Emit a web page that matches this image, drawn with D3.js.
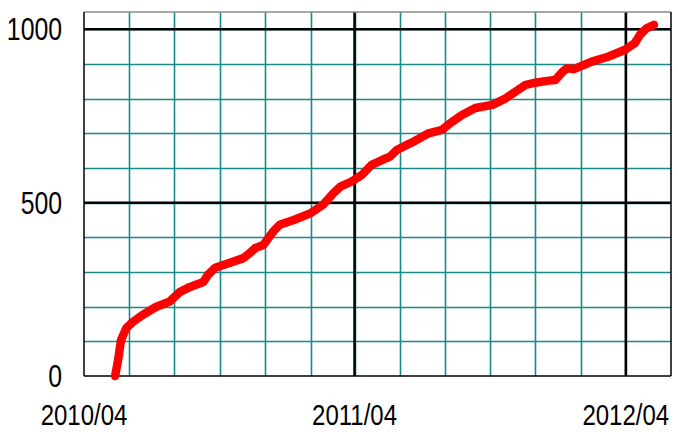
<!DOCTYPE html>
<html>
<head>
<meta charset="utf-8">
<script src="https://cdn.jsdelivr.net/npm/d3@7"></script>
<style>
  body { margin: 0; background: #fff; }
  text { font-family: "Liberation Sans", Arial, sans-serif; }
</style>
</head>
<body>
<svg id="chart" width="678" height="432"></svg>
<script>
// Data: cumulative count by date
var dates = [
  "2010-05-13", "2010-05-17", "2010-05-21", "2010-05-28", "2010-06-06", "2010-06-19",
  "2010-07-07", "2010-07-25", "2010-08-08", "2010-08-22", "2010-09-09", "2010-09-15",
  "2010-09-25", "2010-10-10", "2010-11-02", "2010-11-11", "2010-11-18", "2010-11-29",
  "2010-12-12", "2010-12-21", "2011-01-09", "2011-02-01", "2011-02-17", "2011-03-04",
  "2011-03-13", "2011-03-28", "2011-04-11", "2011-04-24", "2011-05-08", "2011-05-19",
  "2011-05-28", "2011-06-12", "2011-06-17", "2011-07-10", "2011-07-28", "2011-08-08",
  "2011-08-24", "2011-09-11", "2011-10-04", "2011-10-22", "2011-11-04", "2011-11-18",
  "2011-12-01", "2011-12-19", "2011-12-28", "2012-01-07", "2012-01-13", "2012-01-22",
  "2012-02-15", "2012-03-08", "2012-03-31", "2012-04-13", "2012-04-20", "2012-04-29",
  "2012-05-09"
];
var counts = [
  0, 46, 104, 138, 156, 176,
  199, 214, 242, 257, 271, 291,
  312, 323, 340, 355, 369, 378,
  416, 436, 450, 470, 493, 528,
  546, 561, 580, 609, 623, 633,
  652, 668, 673, 700, 710, 729,
  753, 773, 782, 801, 820, 840,
  846, 852, 854, 878, 888, 885,
  907, 921, 941, 960, 984, 1003,
  1013
];

// Axis settings
var xTickLabels = ["2010/04", "2011/04", "2012/04"];
var yTickLabels = [0, 500, 1000];
var yMinorStep = 100;
var xDomain = ["2010-04-01", "2012-06-01"];
var yDomain = [0, 1050];

var parse = d3.timeParse("%Y-%m-%d");
var parseLabel = d3.timeParse("%Y/%m");

var data = dates.map(function(d, i) { return { date: parse(d), value: counts[i] }; });

var m = { left: 84, top: 12, right: 7, bottom: 56 };
var W = 678, H = 432;
var squeeze = 0.8;  // narrow glyphs like the original font

var svg = d3.select("#chart");

var x = d3.scaleTime()
  .domain(xDomain.map(parse))
  .range([m.left, W - m.right]);

var y = d3.scaleLinear()
  .domain(yDomain)
  .range([H - m.bottom, m.top]);

// Minor grid
var grid = svg.append("g").attr("class", "grid");

var minorX = d3.timeMonth.range(x.domain()[0], x.domain()[1], 2).slice(1);
grid.selectAll("line.vx")
  .data(minorX)
  .enter().append("line")
    .attr("class", "vx")
    .attr("x1", function(d) { return Math.round(x(d)) + 0.5; })
    .attr("x2", function(d) { return Math.round(x(d)) + 0.5; })
    .attr("y1", y.range()[1])
    .attr("y2", y.range()[0])
    .style("stroke", "#168a8a")
    .style("stroke-width", 1.6);

var minorY = d3.range(yMinorStep, yDomain[1], yMinorStep);
grid.selectAll("line.hy")
  .data(minorY)
  .enter().append("line")
    .attr("class", "hy")
    .attr("x1", x.range()[0])
    .attr("x2", x.range()[1])
    .attr("y1", function(d) { return Math.round(y(d)) + 0.5; })
    .attr("y2", function(d) { return Math.round(y(d)) + 0.5; })
    .style("stroke", "#168a8a")
    .style("stroke-width", 1.6);

// Major grid
var majorX = xTickLabels.map(parseLabel).slice(1);
grid.selectAll("line.mx")
  .data(majorX)
  .enter().append("line")
    .attr("class", "mx")
    .attr("x1", function(d) { return x(d); })
    .attr("x2", function(d) { return x(d); })
    .attr("y1", y.range()[1])
    .attr("y2", y.range()[0])
    .style("stroke", "#000")
    .style("stroke-width", 2.5);

grid.selectAll("line.my")
  .data(yTickLabels.slice(1))
  .enter().append("line")
    .attr("class", "my")
    .attr("x1", x.range()[0])
    .attr("x2", x.range()[1])
    .attr("y1", function(d) { return y(d); })
    .attr("y2", function(d) { return y(d); })
    .style("stroke", "#000")
    .style("stroke-width", 2.5);

// Frame
var x0 = x.range()[0], x1 = x.range()[1], y0 = y.range()[0], y1 = y.range()[1];
svg.append("line").attr("x1", x0).attr("x2", x1).attr("y1", y1).attr("y2", y1)
  .style("stroke", "#8a8a8a").style("stroke-width", 1.5);
svg.append("line").attr("x1", x0).attr("x2", x0).attr("y1", y1).attr("y2", y0)
  .style("stroke", "#000").style("stroke-width", 1.5);
svg.append("line").attr("x1", x1).attr("x2", x1).attr("y1", y1).attr("y2", y0)
  .style("stroke", "#000").style("stroke-width", 1.5);
svg.append("line").attr("x1", x0).attr("x2", x1).attr("y1", y0).attr("y2", y0)
  .style("stroke", "#000").style("stroke-width", 1.5);

// Line
var line = d3.line()
  .x(function(d) { return x(d.date); })
  .y(function(d) { return y(d.value); });

svg.append("path")
  .datum(data)
  .attr("d", line)
  .style("fill", "none")
  .style("stroke", "#ff0000")
  .style("stroke-width", 8.5)
  .style("stroke-linecap", "round")
  .style("stroke-linejoin", "round");

// Y labels
svg.append("g").selectAll("text")
  .data(yTickLabels)
  .enter().append("text")
    .attr("transform", function(d) { return "translate(62," + y(d) + ") scale(" + squeeze + ",1)"; })
    .attr("dy", "0.36em")
    .style("text-anchor", "end")
    .style("font-size", "31px")
    .style("fill", "#000")
    .text(function(d) { return d; });

// X labels
svg.append("g").selectAll("text")
  .data(xTickLabels)
  .enter().append("text")
    .attr("transform", function(d) { return "translate(" + x(parseLabel(d)) + ",425) scale(" + squeeze + ",1)"; })
    .style("text-anchor", "middle")
    .style("font-size", "30px")
    .style("fill", "#000")
    .text(function(d) { return d; });
</script>
</body>
</html>
